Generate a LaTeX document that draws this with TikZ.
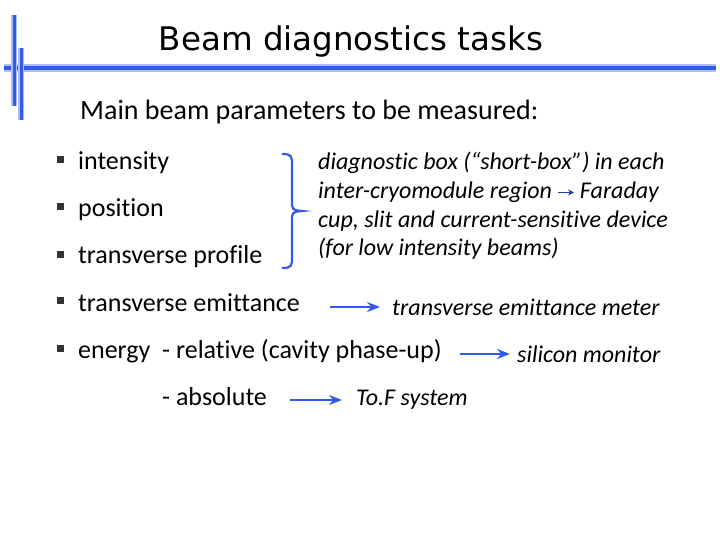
\documentclass[tikz,border=0pt]{standalone}
\usepackage{fontspec}
\setmainfont{Carlito}[Ligatures=NoCommon]
\newfontfamily\titlefont{DejaVu Sans}
\usetikzlibrary{arrows.meta}
\definecolor{bl}{RGB}{50,90,230}
\begin{document}
\begin{tikzpicture}[x=1pt,y=-1pt,
  txt/.style={anchor=west,inner sep=0pt,font=\fontsize{26}{30}\selectfont},
  itx/.style={anchor=west,inner sep=0pt,font=\fontsize{24}{28.7}\selectfont\itshape,align=left},
  bul/.style={anchor=center,inner sep=0pt,fill=black!80,minimum size=7pt},
  arr/.style={-{Stealth[length=13pt,width=10pt]},bl,line width=1.8pt}]
\useasboundingbox (0,0) rectangle (720,540);
\fill[bl!40] (4,64) rectangle (716,72);
\fill[bl] (4,66) rectangle (716,70);
\fill[bl!40] (11,15) rectangle (17,106);
\fill[bl] (12.5,15) rectangle (15.5,106);
\fill[bl!40] (18,48) rectangle (24,120);
\fill[bl] (19.5,48) rectangle (22.5,120);
\node[anchor=center,inner sep=0pt,font=\titlefont\fontsize{32.5}{36}\selectfont] (title) at (351,42) {Beam diagnostics tasks};
\node[txt,font=\fontsize{28}{32}\selectfont] (main) at (80,112) {Main beam parameters to be measured:};
\foreach \n/\y/\t in {i/163/intensity,p/210/position,tp/257/transverse profile,te/303/transverse emittance,en/351/{energy\ \ - relative (cavity phase-up)}}{
  \node[bul] (b\n) at (60,\y-3) {};
  \node[txt] (\n) at (78,\y) {\t};
}
\node[txt] (abs) at (162,397) {- absolute};
\draw[bl,line width=2.2pt] (282,154) .. controls (292,154) and (292,156) .. (292,166) -- (292,200) .. controls (292,210) .. (302,211) .. controls (292,212) .. (292,222) -- (292,256) .. controls (292,266) and (292,268) .. (282,268);
\node[itx] (box) at (318,206) {diagnostic box (“short-box”) in each\\inter-cryomodule region \tikz[x=1pt,y=1pt,baseline=-6pt]\draw[-{Stealth[length=6pt,width=6pt]},bl!70!black,line width=1pt] (0,0)--(16,0);\ Faraday\\cup, slit and current-sensitive device\\(for low intensity beams)};
\node[itx] (tem) at (392,307) {transverse emittance meter};
\node[itx] (sil) at (517,354) {silicon monitor};
\node[itx] (tof) at (356,400) {To.F system};
\draw[arr] (330,307) -- (380,307);
\draw[arr] (460,354) -- (510,354);
\draw[arr] (290,400) -- (342,400);
\end{tikzpicture}
\end{document}
